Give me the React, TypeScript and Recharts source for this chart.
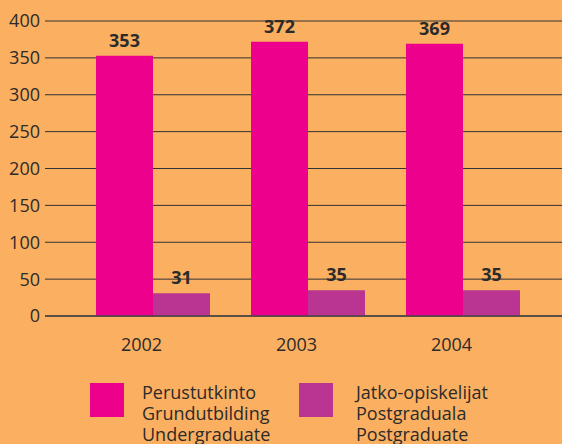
import React from "react";
import { BarChart, Bar, XAxis, YAxis, CartesianGrid, LabelList, Legend } from "recharts";

const years = ["2002", "2003", "2004"];
const undergraduate = [353, 372, 369];
const postgraduate = [31, 35, 35];
const yTicks = [0, 50, 100, 150, 200, 250, 300, 350, 400];

const seriesInfo = [
  { key: "under", color: "#EC008C", lines: ["Perustutkinto", "Grundutbilding", "Undergraduate"] },
  { key: "post", color: "#BA3592", lines: ["Jatko-opiskelijat", "Postgraduala", "Postgraduate"] },
];

const data = years.map((y, i) => ({ year: y, under: undergraduate[i], post: postgraduate[i] }));

const FONT = "'Open Sans', sans-serif";
const TEXT = "#2b2b2b";

const XTick = (props: any) => {
  const { x, y, payload } = props;
  return (
    <text x={x - 11} y={y + 35} textAnchor="middle" fill={TEXT} fontSize={18} fontFamily={FONT}>
      {payload.value}
    </text>
  );
};

const LegendContent = () => (
  <div style={{ position: "relative", height: 70, fontFamily: FONT, fontSize: 18, color: TEXT }}>
    {seriesInfo.map((s, i) => {
      const sqX = i === 0 ? 90 : 299;
      const txX = i === 0 ? 142 : 356;
      return (
        <React.Fragment key={s.key}>
          <div style={{ position: "absolute", left: sqX, top: 9, width: 34, height: 34, background: s.color }} />
          <div style={{ position: "absolute", left: txX, top: 8, lineHeight: "21px", textAlign: "left" }}>
            {s.lines.map((l) => (
              <div key={l}>{l}</div>
            ))}
          </div>
        </React.Fragment>
      );
    })}
  </div>
);

export default function App() {
  return (
    <div style={{ position: "absolute", left: 0, top: 0, width: 562, height: 444, background: "#FBAF60" }}>
      <BarChart
        width={562}
        height={444}
        data={data}
        margin={{ top: 21, right: 0, left: 0, bottom: 0 }}
        barGap={0}
        barSize={57}
      >
        <CartesianGrid horizontal vertical={false} stroke="#333" strokeWidth={1} />
        <XAxis
          dataKey="year"
          height={58}
          padding={{ left: 30, right: 22 }}
          tickLine={false}
          tickSize={0}
          tickMargin={0}
          axisLine={{ stroke: "#444", strokeWidth: 1.5 }}
          tick={<XTick />}
          interval={0}
        />
        <YAxis
          width={45}
          domain={[0, 400]}
          ticks={yTicks}
          axisLine={false}
          tickLine={false}
          tickSize={3}
          tickMargin={2}
          tick={{ fill: TEXT, fontSize: 18, fontFamily: FONT }}
        />
        <Legend
          verticalAlign="bottom"
          content={<LegendContent />}
          wrapperStyle={{ width: 562, height: 70, left: 0 }}
        />
        <Bar dataKey="under" fill="#EC008C" isAnimationActive={false}>
          <LabelList dataKey="under" position="top" offset={9} fill={TEXT} fontSize={18} fontWeight={700} fontFamily={FONT} />
        </Bar>
        <Bar dataKey="post" fill="#BA3592" isAnimationActive={false}>
          <LabelList dataKey="post" position="top" offset={9} fill={TEXT} fontSize={18} fontWeight={700} fontFamily={FONT} />
        </Bar>
      </BarChart>
    </div>
  );
}
